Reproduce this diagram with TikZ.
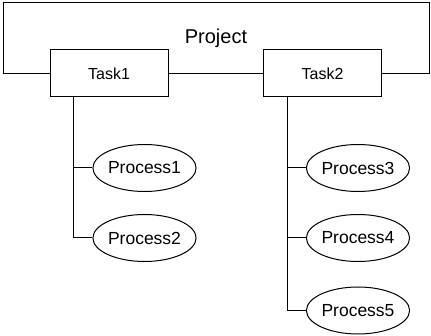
\documentclass[tikz,border=0pt]{standalone}
\usepackage{fontspec}
\setmainfont{Liberation Sans}
\usetikzlibrary{shapes.geometric}
\begin{document}
\begin{tikzpicture}[x=1pt,y=-1pt,line width=1pt,
  taskbox/.style={draw,minimum width=118pt,minimum height=47pt,inner sep=0pt,font=\fontsize{16}{19}\selectfont},
  proc/.style={draw,ellipse,minimum width=95pt,minimum height=47pt,inner sep=0pt,font=\fontsize{17.5}{20}\selectfont}]
\useasboundingbox (0,0) rectangle (431,336);
\node[taskbox] (t1) at (109,73.5) {Task1};
\node[taskbox] (t2) at (322.5,73.5) {Task2};
\node[font=\fontsize{20}{23}\selectfont] (proj) at (216,38) {Project};
\coordinate (pl) at (3,3);
\coordinate (pr) at (429,3);
\draw (t1.west) -| (pl) -- (pr) |- (t2.east);
\draw (t1) -- (t2);
\node[proc] (p1) at (144.5,168) {Process1};
\node[proc] (p2) at (144.5,238) {Process2};
\node[proc] (p3) at (358,168) {Process3};
\node[proc] (p4) at (358,238) {Process4};
\node[proc] (p5) at (358,310.5) {Process5};
\draw (t1.south -| 73,0) |- (p2.west);
\draw (p1.west) -- (p1.west -| 73,0);
\draw (t2.south -| 287,0) |- (p5.west);
\draw (p3.west) -- (p3.west -| 287,0);
\draw (p4.west) -- (p4.west -| 287,0);
\end{tikzpicture}
\end{document}
